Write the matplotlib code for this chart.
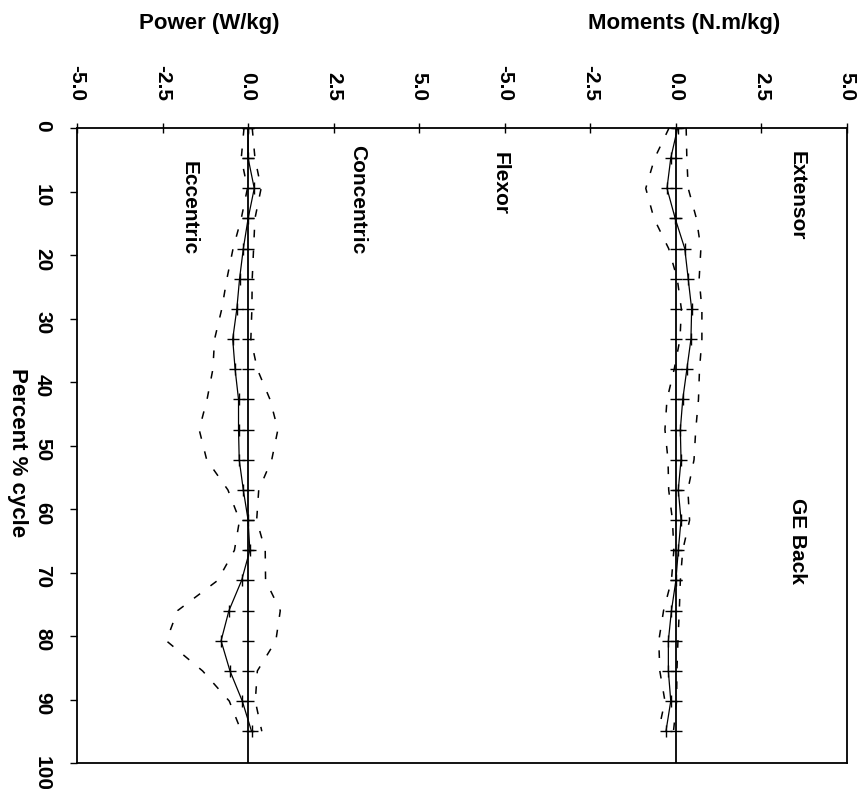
import numpy as np
import matplotlib
matplotlib.use('Agg')
import matplotlib.pyplot as plt

plt.rcParams['font.family'] = ['Liberation Sans', 'DejaVu Sans']
plt.rcParams['font.weight'] = 'bold'

# percent of the cycle at each sample
cycle = [0, 4.75, 9.5, 14.25, 19, 23.75, 28.5, 33.25, 38, 42.75, 47.5,
         52.25, 57, 61.75, 66.5, 71.25, 76, 80.75, 85.5, 90.25, 95]

# power (W/kg), mean and SD
power_mean = [0.0, 0.0, 0.18, 0.0, -0.14, -0.25, -0.33, -0.45, -0.38, -0.28, -0.28,
              -0.26, -0.14, 0.0, 0.05, -0.19, -0.56, -0.79, -0.53, -0.17, 0.1]
power_sd = [0.12, 0.2, 0.2, 0.2, 0.3, 0.37, 0.44, 0.53, 0.65, 0.92, 1.15,
            0.95, 0.45, 0.25, 0.45, 0.7, 1.5, 1.6, 0.8, 0.38, 0.3]

# moments (N.m/kg), mean and SD
moment_mean = [0.05, -0.15, -0.26, -0.02, 0.26, 0.36, 0.46, 0.44, 0.32, 0.2, 0.13,
               0.15, 0.07, 0.15, 0.07, 0.0, -0.13, -0.22, -0.22, -0.15, -0.29]
moment_sd = [0.25, 0.47, 0.62, 0.62, 0.47, 0.32, 0.3, 0.32, 0.37, 0.46, 0.45,
             0.38, 0.28, 0.25, 0.13, 0.13, 0.23, 0.28, 0.25, 0.17, 0.22]

value_ticks = [-5.0, -2.5, 0.0, 2.5, 5.0]
cycle_ticks = [0, 10, 20, 30, 40, 50, 60, 70, 80, 90, 100]

# both panels share one axes, moments shifted right
MOMENT_SHIFT = 12.5


def draw_panel(ax, mean, sd, shift):
    mean = np.array(mean) + shift
    sd = np.array(sd)
    ax.axvline(shift, color='black', lw=1.3, zorder=2)
    ax.plot(np.full(len(cycle), shift), cycle, ls='none', marker='_',
            ms=8, mew=1.0, color='black')
    ax.plot(mean, cycle, color='black', lw=0.9, marker='+', ms=8, mew=1.0)
    for band in (mean - sd, mean + sd):
        ax.plot(band, cycle, color='black', lw=1.1, ls=(0, (5, 8.5)))


fig = plt.figure(figsize=(8.67, 7.89), dpi=100)
ax = fig.add_axes([77 / 867, 1 - 763 / 789, 770 / 867, 635 / 789])

draw_panel(ax, power_mean, power_sd, 0.0)
draw_panel(ax, moment_mean, moment_sd, MOMENT_SHIFT)

ax.set_xlim(-5, 5 + MOMENT_SHIFT)
ax.set_ylim(100, 0)

xt = value_ticks + [v + MOMENT_SHIFT for v in value_ticks]
ax.xaxis.tick_top()
ax.set_xticks(xt)
ax.set_xticklabels(['%.1f' % v for v in value_ticks] * 2, rotation=-90,
                   fontsize=15, fontweight='bold')
ax.tick_params(axis='x', direction='inout', length=7, width=1, pad=16)

ax.set_yticks(cycle_ticks)
ax.set_yticklabels([str(v) for v in cycle_ticks], rotation=-90,
                   fontsize=15, fontweight='bold')
ax.tick_params(axis='y', direction='out', length=5, width=1, pad=13)

for s in ax.spines.values():
    s.set_linewidth(1.3)

ax.text(-1.72, 12.6, 'Eccentric', rotation=-90, ha='center', va='center', fontsize=15)
ax.text(3.19, 11.3, 'Concentric', rotation=-90, ha='center', va='center', fontsize=15)
ax.text(7.37, 8.7, 'Flexor', rotation=-90, ha='center', va='center', fontsize=15)
ax.text(16.05, 10.7, 'Extensor', rotation=-90, ha='center', va='center', fontsize=15)
ax.text(16.05, 65.0, 'GE Back', rotation=-90, ha='center', va='center', fontsize=15)

fig.text(209 / 867, 1 - 24 / 789, 'Power (W/kg)', ha='center', va='center', fontsize=16)
fig.text(684 / 867, 1 - 24 / 789, 'Moments (N.m/kg)', ha='center', va='center', fontsize=16)
fig.text(17 / 867, 1 - 453 / 789, 'Percent % cycle', rotation=-90,
         ha='center', va='center', fontsize=16)

fig.savefig('out.png', dpi=100)
